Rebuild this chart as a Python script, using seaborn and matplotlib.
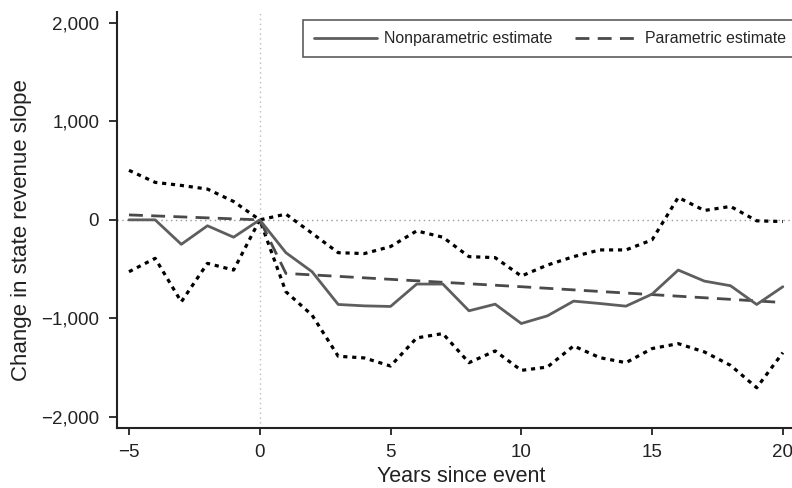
import numpy as np
import pandas as pd
import matplotlib
matplotlib.use("Agg")
import matplotlib.pyplot as plt
import matplotlib.ticker as mticker
import seaborn as sns

# years since event
years = list(range(-5, 21))

# nonparametric estimate (solid line)
nonparam = [0, 0, -248, -60, -176, 0,
            -333, -526, -858, -872, -878, -651, -651, -922, -855, -1051,
            -973, -824, -848, -875, -753, -509, -621, -668, -858, -678]

# confidence band (dotted lines)
upper_ci = [502, 380, 349, 312, 186, 0,
            58, -136, -333, -342, -271, -112, -176, -373, -383, -570,
            -458, -373, -305, -305, -203, 227, 95, 136, -10, -17]
lower_ci = [-526, -390, -831, -441, -509, 0,
            -729, -966, -1383, -1400, -1482, -1197, -1153, -1448, -1329, -1526,
            -1492, -1278, -1397, -1448, -1305, -1255, -1339, -1475, -1702, -1346]

# parametric estimate (dashed line)
param = [50, 40, 30, 20, 10, 0,
         -543, -558, -573, -588, -603, -618, -633, -648, -663, -678,
         -694, -710, -726, -742, -758, -774, -790, -806, -822, -838]

df = pd.DataFrame({"year": years, "nonparam": nonparam, "upper": upper_ci,
                   "lower": lower_ci, "param": param})

sns.set_style("ticks")
plt.rcParams["font.family"] = ["Liberation Sans", "DejaVu Sans"]

fig = plt.figure(figsize=(7.92, 4.88), dpi=100)
ax = fig.add_axes([0.148, 0.123, 0.852, 0.853])

# reference lines
ax.axhline(0, color="#999999", lw=1, ls=(0, (1, 2.5)), zorder=1)
ax.axvline(0, color="#bbbbbb", lw=1, ls=(0, (1, 2.5)), zorder=1)

sns.lineplot(data=df, x="year", y="upper", ax=ax, color="black", lw=2.3,
             linestyle=(0, (1.3, 1.5)), label="_nolegend_")
sns.lineplot(data=df, x="year", y="lower", ax=ax, color="black", lw=2.3,
             linestyle=(0, (1.3, 1.5)), label="_nolegend_")
sns.lineplot(data=df, x="year", y="param", ax=ax, color="#4a4a4a", lw=2,
             linestyle=(0, (5, 3)), label="Parametric estimate")
sns.lineplot(data=df, x="year", y="nonparam", ax=ax, color="#5e5e5e", lw=2,
             label="Nonparametric estimate")

ax.set_xlim(-5.45, 20.35)
ax.set_ylim(-2110, 2110)
ax.set_xticks([-5, 0, 5, 10, 15, 20])
ax.set_yticks([-2000, -1000, 0, 1000, 2000])
ax.yaxis.set_major_formatter(mticker.FuncFormatter(
    lambda v, p: f"{int(v):,}".replace("-", "\u2212")))
ax.xaxis.set_major_formatter(mticker.FuncFormatter(
    lambda v, p: f"{int(v)}".replace("-", "\u2212")))
ax.tick_params(axis="both", labelsize=13.5, width=1.3,
               color="#222222", labelcolor="#222222", direction="out")
ax.tick_params(axis="y", length=6, pad=7)
ax.tick_params(axis="x", length=5.2, pad=6)
ax.set_xlabel("Years since event", fontsize=15.5, color="#222222", va="top")
ax.xaxis.set_label_coords(0.51, -0.092)
ax.set_ylabel("Change in state revenue slope", fontsize=16, color="#222222")
ax.yaxis.set_label_coords(-0.127, 0.476)

sns.despine(ax=ax)
for s in ["left", "bottom"]:
    ax.spines[s].set_linewidth(1.5)
    ax.spines[s].set_color("#222222")

handles, labels = ax.get_legend_handles_labels()
order = [labels.index("Nonparametric estimate"), labels.index("Parametric estimate")]
leg = ax.legend([handles[i] for i in order], [labels[i] for i in order],
                loc="upper left", bbox_to_anchor=(303 / 792, 1 - 20 / 488),
                bbox_transform=fig.transFigure, ncol=2,
                fontsize=11.4, frameon=True, fancybox=False, handlelength=3.95,
                columnspacing=1.45, handletextpad=0.45, borderpad=0.7,
                borderaxespad=0)
leg.get_frame().set_edgecolor("#333333")
leg.get_frame().set_linewidth(1.2)

fig.savefig("out.png", dpi=100)
